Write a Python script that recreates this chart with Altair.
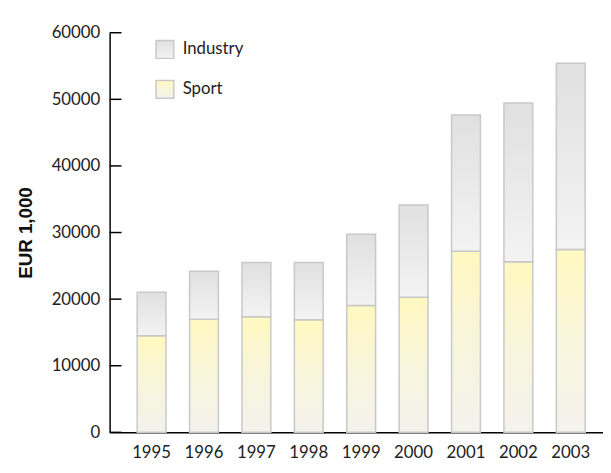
import altair as alt
import pandas as pd

years = ["1995", "1996", "1997", "1998", "1999", "2000", "2001", "2002", "2003"]
sport = [14500, 17000, 17350, 16900, 19050, 20300, 27200, 25600, 27450]
industry_total = [21050, 24200, 25500, 25500, 29750, 34150, 47650, 49450, 55400]
y_ticks = [0, 10000, 20000, 30000, 40000, 50000, 60000]
series = ["Industry", "Sport"]

FONT = "Lato"
W, H = 500, 405

df = pd.DataFrame({"year": years, "sport": sport, "total": industry_total})
ticks_df = pd.DataFrame({"v": y_ticks})

sport_grad = alt.LinearGradient(
    gradient="linear", x1=0, y1=0, x2=0, y2=1,
    stops=[alt.GradientStop(color="#fff8c0", offset=0),
           alt.GradientStop(color="#f8f5dc", offset=0.5),
           alt.GradientStop(color="#f3f2ec", offset=1)])
ind_grad = alt.LinearGradient(
    gradient="linear", x1=0, y1=0, x2=0, y2=1,
    stops=[alt.GradientStop(color="#e0e0e0", offset=0),
           alt.GradientStop(color="#f3f3f3", offset=1)])

x_enc = alt.X("year:N", sort=years, title=None,
              scale=alt.Scale(paddingInner=0.45, paddingOuter=0.433, align=0.607),
              axis=alt.Axis(labelAngle=0, ticks=False, grid=False, domainColor="black", domainWidth=1.5,
                            labelFont=FONT, labelFontSize=17, labelColor="#222",
                            labelPadding=13))
y_scale = alt.Scale(domain=[0, 60000], nice=False)
y_axis = alt.Axis(values=y_ticks, format="d", ticks=False, grid=False, domainColor="black", domainWidth=1.5,
                  labelFont=FONT, labelFontSize=17, labelColor="#222", labelPadding=10,
                  title="EUR 1,000", titleFont="Liberation Sans", titleFontSize=19,
                  titleFontWeight="bold", titleColor="#111", titlePadding=16)

base = alt.Chart(df)
sport_bars = base.mark_bar(fill=sport_grad, stroke="#c8c8c8", strokeWidth=1.5).encode(
    x=x_enc,
    y=alt.Y("sport:Q", scale=y_scale, axis=y_axis),
)
ind_bars = base.mark_bar(fill=ind_grad, stroke="#c8c8c8", strokeWidth=1.5).encode(
    x=x_enc,
    y=alt.Y("total:Q", scale=y_scale),
    y2="sport:Q",
)

# inward y-axis ticks
tick_rules = alt.Chart(ticks_df).mark_rule(stroke="black", strokeWidth=1.5).encode(
    y=alt.Y("v:Q", scale=y_scale),
    x=alt.value(0),
    x2=alt.value(12),
)

leg_df_i = pd.DataFrame({"label": [series[0]]})
leg_df_s = pd.DataFrame({"label": [series[1]]})
leg_sq_i = alt.Chart(leg_df_i).mark_square(size=324, fill=ind_grad, stroke="#c8c8c8",
                                             strokeWidth=1.5, opacity=1).encode(
    x=alt.value(56), y=alt.value(17))
leg_sq_s = alt.Chart(leg_df_s).mark_square(size=324, fill=sport_grad, stroke="#c8c8c8",
                                             strokeWidth=1.5, opacity=1).encode(
    x=alt.value(56), y=alt.value(57.5))
leg_tx_i = alt.Chart(leg_df_i).mark_text(align="left", baseline="middle", font=FONT,
                                         fontSize=17, color="#222").encode(
    x=alt.value(74), y=alt.value(17), text="label:N")
leg_tx_s = alt.Chart(leg_df_s).mark_text(align="left", baseline="middle", font=FONT,
                                         fontSize=17, color="#222").encode(
    x=alt.value(74), y=alt.value(57.5), text="label:N")

chart = alt.layer(sport_bars, ind_bars, tick_rules, leg_sq_i, leg_sq_s, leg_tx_i, leg_tx_s).properties(
    width=W, height=H,
    background="white",
    autosize=alt.AutoSizeParams(type="none"),
    padding={"left": 103, "top": 22, "right": 0, "bottom": 27},
).configure_view(strokeOpacity=0, strokeWidth=0).configure_axis(grid=False)

chart.save("out.html", embed_options={"renderer": "svg", "actions": False})
